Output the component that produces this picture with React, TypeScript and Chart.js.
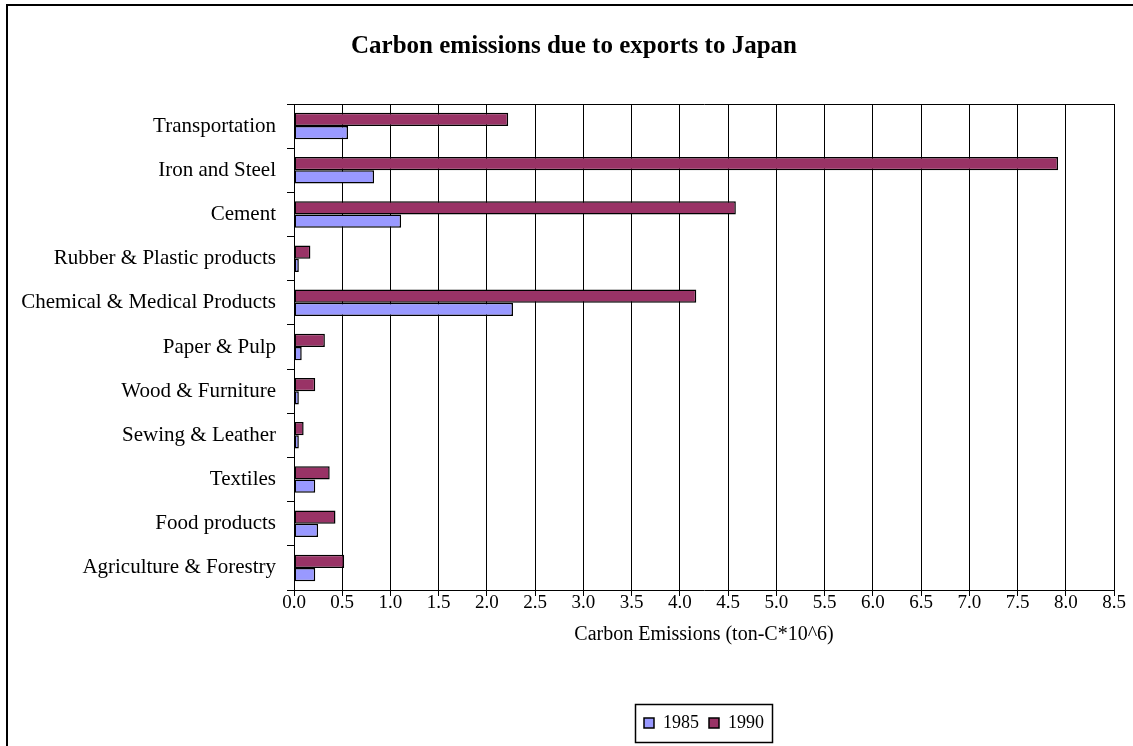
import React, { useEffect, useRef } from "react";
import { Chart, registerables } from "chart.js";

Chart.register(...registerables);

const categories = [
  "Transportation",
  "Iron and Steel",
  "Cement",
  "Rubber & Plastic products",
  "Chemical & Medical Products",
  "Paper & Pulp",
  "Wood & Furniture",
  "Sewing & Leather",
  "Textiles",
  "Food products",
  "Agriculture & Forestry",
];
const values1985 = [0.56, 0.83, 1.11, 0.05, 2.27, 0.08, 0.05, 0.05, 0.22, 0.25, 0.22];
const values1990 = [2.22, 7.92, 4.58, 0.17, 4.17, 0.32, 0.22, 0.1, 0.37, 0.43, 0.52];
const seriesNames = ["1985", "1990"];
const xTickValues = [0, 0.5, 1, 1.5, 2, 2.5, 3, 3.5, 4, 4.5, 5, 5.5, 6, 6.5, 7, 7.5, 8, 8.5];
const chartTitle = "Carbon emissions due to exports to Japan";
const xAxisTitle = "Carbon Emissions (ton-C*10^6)";

const FONT = "'Liberation Serif', 'Times New Roman', serif";
const CANVAS_W = 1148;
const CANVAS_H = 746;

const framePlugin = {
  id: "frame",
  afterLayout(chart: any) {
    // let the long category labels use the space left of the axis box
    const y = chart.scales.y;
    if (y) y.left = 0;
  },
  beforeDraw(chart: any) {
    const ctx = chart.ctx;
    ctx.save();
    ctx.fillStyle = "#fff";
    ctx.fillRect(0, 0, chart.width, chart.height);
    ctx.restore();
  },
  afterDraw(chart: any) {
    const ctx = chart.ctx;
    ctx.save();
    ctx.strokeStyle = "#000";
    ctx.lineWidth = 2;
    ctx.beginPath();
    ctx.moveTo(7, chart.height + 5);
    ctx.lineTo(7, 5);
    ctx.lineTo(chart.width - 7, 5);
    ctx.lineTo(chart.width - 7, chart.height + 5);
    ctx.stroke();
    // legend border
    const lg = chart.legend;
    if (lg && lg.legendHitBoxes && lg.legendHitBoxes.length) {
      let l = Infinity;
      let r = -Infinity;
      lg.legendHitBoxes.forEach((hb: any) => {
        l = Math.min(l, hb.left);
        r = Math.max(r, hb.left + hb.width);
      });
      ctx.lineWidth = 1.5;
      ctx.strokeRect(Math.round(l - 9) + 0.5, Math.round(lg.top) + 0.5, Math.round(r - l + 17), Math.round(lg.bottom - lg.top));
    }
    ctx.restore();
  },
};

export default function App() {
  const ref = useRef<HTMLCanvasElement>(null);

  useEffect(() => {
    const canvas = ref.current;
    if (!canvas) return;
    const chart = new Chart(canvas, {
      type: "bar",
      data: {
        labels: categories,
        datasets: [
          {
            label: seriesNames[1],
            data: values1990,
            backgroundColor: "#993366",
            borderColor: "#000",
            borderWidth: 1.5,
            borderSkipped: false,
          },
          {
            label: seriesNames[0],
            data: values1985,
            backgroundColor: "#9999FF",
            borderColor: "#000",
            borderWidth: 1.5,
            borderSkipped: false,
          },
        ],
      },
      options: {
        indexAxis: "y",
        responsive: false,
        animation: false,
        devicePixelRatio: 1,
        color: "#000",
        datasets: {
          bar: { categoryPercentage: 0.6, barPercentage: 1 },
        },
        layout: { padding: { left: 34, right: 34, top: 0, bottom: 4 } },
        plugins: {
          title: {
            display: true,
            text: chartTitle,
            color: "#000",
            font: { family: FONT, size: 25, weight: "bold", lineHeight: 1.2 },
            padding: { top: 32, bottom: 42 },
          },
          legend: {
            display: true,
            position: "bottom",
            fullSize: false,
            reverse: true,
            labels: {
              color: "#000",
              boxWidth: 10,
              boxHeight: 10,
              padding: 10,
              font: { family: FONT, size: 18 },
            },
          },
          tooltip: { enabled: false },
        },
        scales: {
          x: {
            type: "linear",
            min: 0,
            max: 8.5,
            afterBuildTicks: (scale: any) => {
              scale.ticks = xTickValues.map((v) => ({ value: v }));
            },
            afterFit: (scale: any) => {
              scale.height = 114;
            },
            grid: { color: "#000", tickColor: "#000", tickLength: 6, lineWidth: 1 },
            border: { color: "#000", width: 1 },
            ticks: {
              color: "#000",
              autoSkip: false,
              maxRotation: 0,
              padding: -2,
              font: { family: FONT, size: 19, lineHeight: 1 },
              callback: (v: any) => Number(v).toFixed(1),
            },
            title: {
              display: true,
              text: xAxisTitle,
              color: "#000",
              font: { family: FONT, size: 20, lineHeight: 1.2 },
              padding: { top: 11, bottom: 57 },
            },
          },
          y: {
            type: "category",
            grid: {
              offset: true,
              drawOnChartArea: true,
              color: (c: any) => (c.index === 0 ? "#000" : "rgba(0,0,0,0)"),
              tickColor: "#000",
              tickLength: 7,
              lineWidth: 1,
            },
            border: { color: "#000", width: 1 },
            ticks: {
              color: "#000",
              autoSkip: false,
              padding: 11,
              font: { family: FONT, size: 21 },
            },
            afterFit: (scale: any) => {
              scale.width = 260;
            },
          },
        },
      },
      plugins: [framePlugin],
    } as any);
    return () => chart.destroy();
  }, []);

  return (
    <div
      style={{
        position: "fixed",
        left: 0,
        top: 0,
        width: 1133,
        height: 746,
        overflow: "hidden",
        background: "#fff",
      }}
    >
      <canvas ref={ref} width={CANVAS_W} height={CANVAS_H} style={{ display: "block", width: CANVAS_W, height: CANVAS_H }} />
    </div>
  );
}
